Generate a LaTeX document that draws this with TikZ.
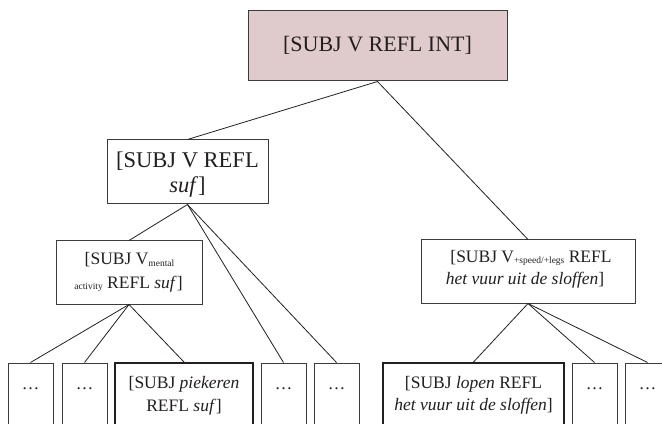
\documentclass[tikz,border=0pt]{standalone}
\usepackage{fontspec}
\setmainfont{Liberation Serif}
\definecolor{ink}{HTML}{231F20}
\definecolor{rootfill}{HTML}{DFCBCB}
\definecolor{edge}{HTML}{3C3C3C}
% small lowered index text (verb subclasses)
\newcommand\vidx[1]{\raisebox{-1.2pt}{\fontsize{9.5}{10}\selectfont #1}}
\tikzset{
  box/.style={draw=edge, line width=1pt, fill=white, inner sep=0pt},
  rootbox/.style={box, fill=rootfill},
  leaf/.style={box, minimum width=45pt, minimum height=77pt},
  keyleaf/.style={box, line width=1.9pt, draw=ink, minimum height=77pt},
  link/.style={draw=ink, line width=0.8pt},
  big/.style={text=ink, inner sep=0pt, anchor=base, font=\fontsize{22}{24}\selectfont},
  small/.style={text=ink, inner sep=0pt, anchor=base, font=\fontsize{17.5}{21}\selectfont},
}
\begin{document}
\begin{tikzpicture}[x=1pt, y=-1pt]
\useasboundingbox (0,0) rectangle (662,425);

% upper levels of the network
\node[rootbox, minimum width=259pt, minimum height=70pt] (root) at (377.5,46) {};
\node[box, minimum width=161pt, minimum height=64pt] (suf) at (187.5,172) {};
\node[box, minimum width=146pt, minimum height=63pt] (mental) at (129,272.5) {};
\node[box, minimum width=214pt, minimum height=63pt] (speed) at (528,271.5) {};

% lowest level, running off the bottom edge
\begin{scope}
\clip (0,0) rectangle (662,423);
\node[leaf] (d1) at (30.5,401.5) {};
\node[leaf] (d2) at (84.5,401.5) {};
\node[keyleaf, minimum width=138pt] (pieker) at (184,401.5) {};
\node[leaf] (d4) at (283.5,401.5) {};
\node[leaf] (d5) at (336.5,401.5) {};
\node[keyleaf, minimum width=181pt] (lopen) at (473.5,401.5) {};
\node[leaf] (d6) at (594.5,401.5) {};
\node[leaf] (d7) at (647.5,401.5) {};
\end{scope}

% connectors
\draw[link] (root.south) -- (suf.north);
\draw[link] (root.south) -- (speed.north);
\draw[link] (suf.south) -- (mental.north);
\draw[link] (suf.south) -- (d4.north);
\draw[link] (suf.south) -- (d5.north);
\draw[link] (mental.south) -- (d1.north);
\draw[link] (mental.south) -- (d2.north);
\draw[link] (mental.south) -- (pieker.north);
\draw[link] (speed.south) -- (lopen.north);
\draw[link] (speed.south) -- (d6.north);
\draw[link] (speed.south) -- (d7.north);

% labels
\node[big] (rootA) at (377.5,52) {[SUBJ V REFL INT]};
\node[big, font=\fontsize{22.5}{24}\selectfont] (sufA) at (187.5,168) {[SUBJ V REFL};
\node[big, font=\fontsize{22.5}{24}\selectfont] (sufB) at (187.5,193) {\textit{suf}]};
\node[small] (mentalA) at (129.5,265) {[SUBJ V\vidx{mental}};
\node[small] (mentalB) at (128.5,288) {\vidx{activity} REFL \textit{suf}]};
\node[small] (speedA) at (531,262) {[SUBJ V\vidx{+speed/+legs} REFL};
\node[small] (speedB) at (525,284) {\textit{het vuur uit de sloffen}]};
\node[small] (piekerA) at (184,388) {[SUBJ \textit{piekeren}};
\node[small] (piekerB) at (184,411) {REFL \textit{suf}]};
\node[small] (lopenA) at (473.5,388) {[SUBJ \textit{lopen} REFL};
\node[small] (lopenB) at (473.5,410) {\textit{het vuur uit de sloffen}]};
\foreach \d in {d1,d2,d4,d5,d6,d7}
  \node[small] (\d t) at ([yshift=-27pt]\d.north) {\ldots};
\end{tikzpicture}
\end{document}
